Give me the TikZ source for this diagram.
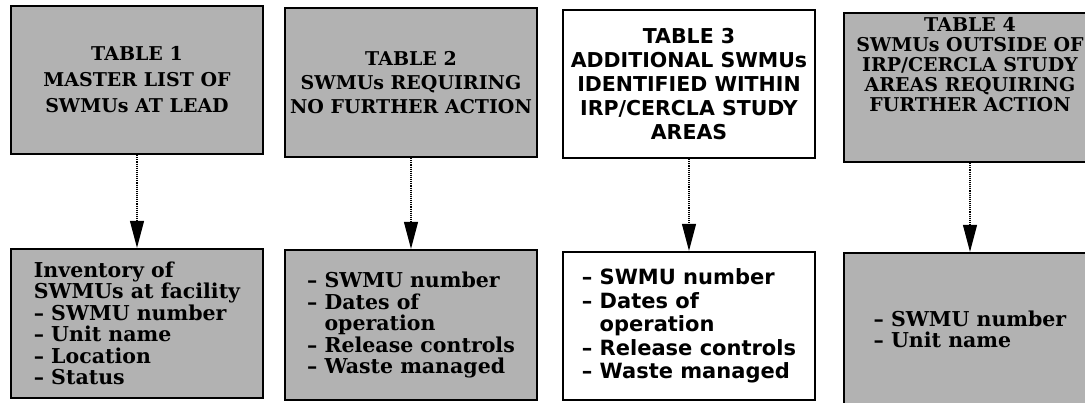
\documentclass[tikz,border=0pt]{standalone}
\usepackage{fontspec}
\newfontfamily\shdfont{DejaVu Serif}
\newfontfamily\plnfont{DejaVu Sans}
\usetikzlibrary{arrows.meta}
\tikzset{
  tbl/.style={draw,line width=2.3pt,minimum width=252pt,inner sep=2pt},
  shd/.style={fill=black!30,font=\shdfont\bfseries\fontsize{19}{26}\selectfont},
  shdl/.style={fill=black!30,font=\shdfont\bfseries\fontsize{20.5}{21.5}\selectfont},
  pln/.style={fill=white,font=\plnfont\bfseries\fontsize{20.5}{24}\selectfont},
  plnl/.style={fill=white,font=\plnfont\bfseries\fontsize{21}{23.5}\selectfont},
  flow/.style={densely dotted,line width=1.1pt,-{Triangle[length=27pt,width=14pt]}},
}
\begin{document}
\begin{tikzpicture}[x=1pt,y=-1pt]
  \useasboundingbox (0,0) rectangle (1085,403);
  \clip (0,0) rectangle (1085,403);
  % upper row: the four tables
  \node[tbl,shd,minimum height=148pt,align=center] (t1) at (137,80)
    {TABLE 1\\MASTER LIST OF\\SWMUs AT LEAD};
  \node[tbl,shd,minimum height=149pt,align=center,font=\shdfont\bfseries\fontsize{19}{24}\selectfont] (t2) at (411,82.5)
    {TABLE 2\\SWMUs REQUIRING\\NO FURTHER ACTION};
  \node[tbl,pln,minimum height=148pt,align=center] (t3) at (689,84)
    {TABLE 3\\ADDITIONAL SWMUs\\IDENTIFIED WITHIN\\IRP/CERCLA STUDY\\AREAS};
  \node[tbl,shd,minimum height=149pt,align=center,text depth=46pt,
    font=\shdfont\bfseries\fontsize{19}{20}\selectfont] (t4) at (970,87.5)
    {TABLE 4\\SWMUs OUTSIDE OF\\IRP/CERCLA STUDY\\AREAS REQUIRING\\FURTHER ACTION};
  % lower row: what each table holds
  \node[tbl,shdl,minimum height=149pt,align=left] (b1) at (137,323.5)
    {Inventory of\\SWMUs at facility\\– SWMU number\\– Unit name\\– Location\\– Status};
  \node[tbl,shdl,minimum height=150pt,align=left] (b2) at (411,325)
    {– SWMU number\\– Dates of\\\phantom{– }operation\\– Release controls\\– Waste managed};
  \node[tbl,plnl,minimum height=148pt,align=left] (b3) at (689,326)
    {– SWMU number\\– Dates of\\\phantom{– }operation\\– Release controls\\– Waste managed};
  \node[tbl,shdl,minimum height=153pt,align=left] (b4) at (970,329.5)
    {– SWMU number\\– Unit name};
  \foreach \i in {1,...,4}
    \draw[flow] (t\i.south) -- (b\i.north);
\end{tikzpicture}
\end{document}
